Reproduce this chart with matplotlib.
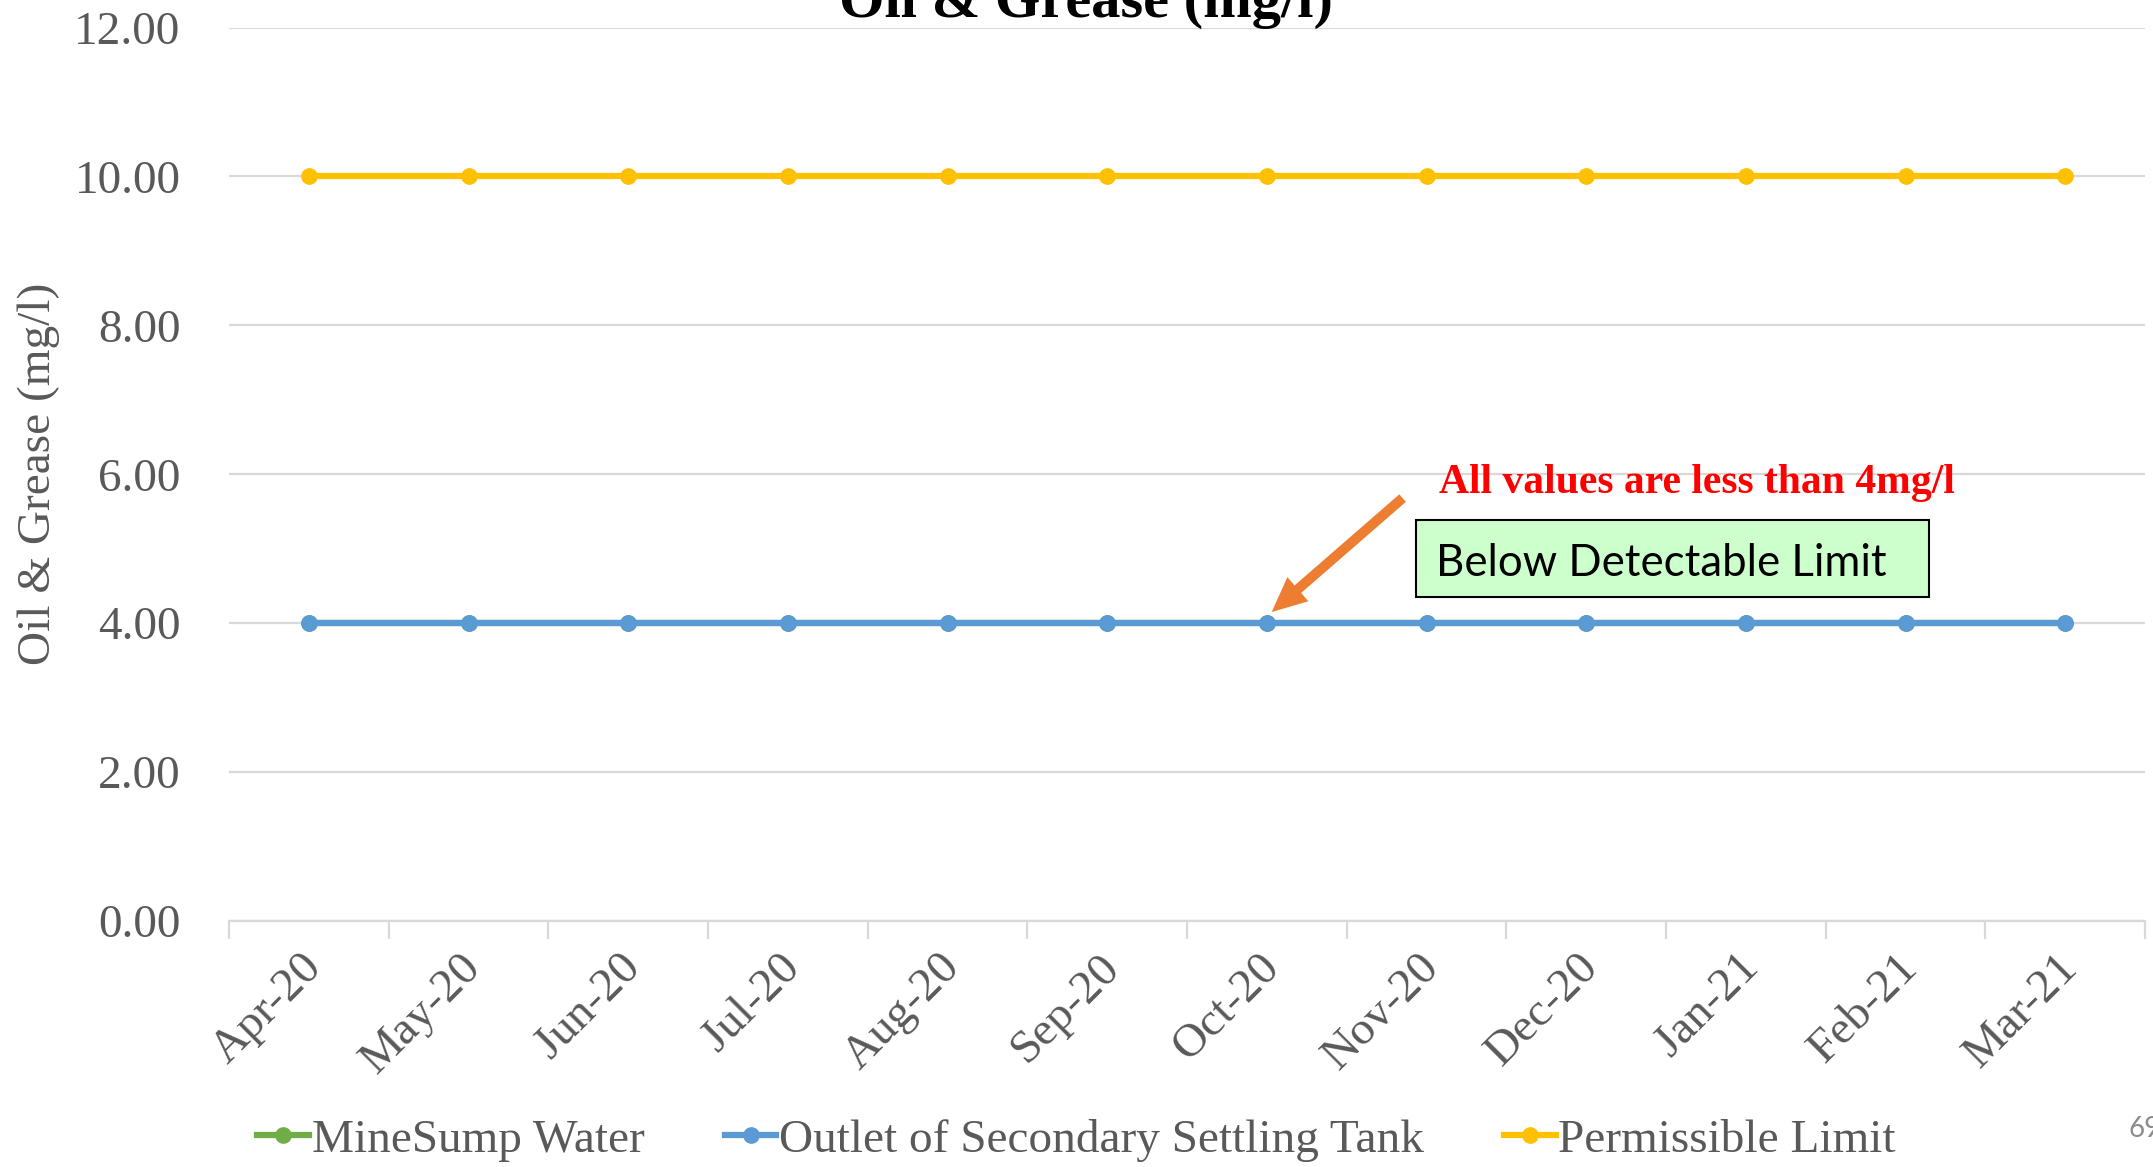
import matplotlib
matplotlib.use("Agg")
import matplotlib.pyplot as plt
from matplotlib.patches import Rectangle
from matplotlib.transforms import ScaledTranslation

months = ["Apr-20", "May-20", "Jun-20", "Jul-20", "Aug-20", "Sep-20",
          "Oct-20", "Nov-20", "Dec-20", "Jan-21", "Feb-21", "Mar-21"]
minesump = [4.0] * 12
outlet = [4.0] * 12
limit = [10.0] * 12

GREY = "#595959"
GRID = "#d9d9d9"
SERIF = "Liberation Serif"

fig = plt.figure(figsize=(21.53, 11.67), dpi=100)
ax = fig.add_axes([0.1064, 0.2108, 0.8899, 0.7656])

x = list(range(len(months)))
ax.plot(x, minesump, color="#70ad47", lw=4.5, marker="o", ms=11, label="MineSump Water", zorder=3)
ax.plot(x, outlet, color="#5b9bd5", lw=4.5, marker="o", ms=11, label="Outlet of Secondary Settling Tank", zorder=4)
ax.plot(x, limit, color="#ffc000", lw=4.5, marker="o", ms=11, label="Permissible Limit", zorder=4)

ax.set_xlim(-0.5, len(months) - 0.5)
ax.set_ylim(0, 12)
ax.set_yticks([0, 2, 4, 6, 8, 10, 12])
ax.set_yticklabels([f"{v:.2f}" for v in [0, 2, 4, 6, 8, 10, 12]],
                   fontsize=34, family=SERIF, color=GREY)
ax.yaxis.grid(True, color=GRID, lw=1.6)
ax.set_axisbelow(True)
ax.tick_params(axis="y", length=0, pad=35)

ax.set_xticks(x)
ax.set_xticklabels(months, fontsize=34, family=SERIF, color=GREY,
                   rotation=45, ha="right", va="top", rotation_mode="anchor")
ax.set_xticks([i - 0.5 for i in range(len(months) + 1)], minor=True)
ax.tick_params(axis="x", which="major", length=0, pad=18)
ax.tick_params(axis="x", which="minor", length=13, width=1.6, color=GRID)
off = ScaledTranslation(-0.09, 0, fig.dpi_scale_trans)
for lab in ax.get_xticklabels():
    lab.set_transform(lab.get_transform() + off)

for s in ["top", "right", "left"]:
    ax.spines[s].set_visible(False)
ax.spines["bottom"].set_color(GRID)
ax.spines["bottom"].set_linewidth(1.6)

ax.set_ylabel("Oil & Grease (mg/l)", fontsize=34, family=SERIF, color=GREY, labelpad=10)

fig.text(0.5044, 0.9854, "Oil & Grease (mg/l)", fontsize=42, family=SERIF,
         weight="bold", ha="center", va="baseline")

# annotation
ax.text(7.08, 5.885, "All values are less than 4mg/l", fontsize=30, family=SERIF,
        weight="bold", color="#ff0000", ha="left", va="center")
ax.add_patch(Rectangle((0.6195, 0.3626), 0.2678, 0.0862, transform=ax.transAxes,
                       facecolor="#ccffcc", edgecolor="black", lw=1.5, zorder=5))
ax.text(0.630, 0.400, "Below Detectable Limit", transform=ax.transAxes, fontsize=31.5,
        family="Lato", color="black", ha="left", va="center", zorder=6)
ax.annotate("", xy=(6.03, 4.15), xytext=(6.85, 5.68),
            arrowprops=dict(arrowstyle="simple,head_length=1.25,head_width=1.15,tail_width=0.36",
                            fc="#ed7d31", ec="none", mutation_scale=20, shrinkA=0, shrinkB=0),
            zorder=6)

leg = fig.legend(loc="center", bbox_to_anchor=(0.5, 1 - 1140 / 1167), ncol=3,
                 frameon=False, handlelength=1.1, handletextpad=0.05, columnspacing=1.7,
                 prop={"family": SERIF, "size": 34})
for t in leg.get_texts():
    t.set_color(GREY)

fig.text(2128 / 2153, 1 - 1129 / 1167, "69", fontsize=20, family="Lato",
         color="#8c8c8c", ha="left", va="center")

fig.savefig("out.png", dpi=100)
